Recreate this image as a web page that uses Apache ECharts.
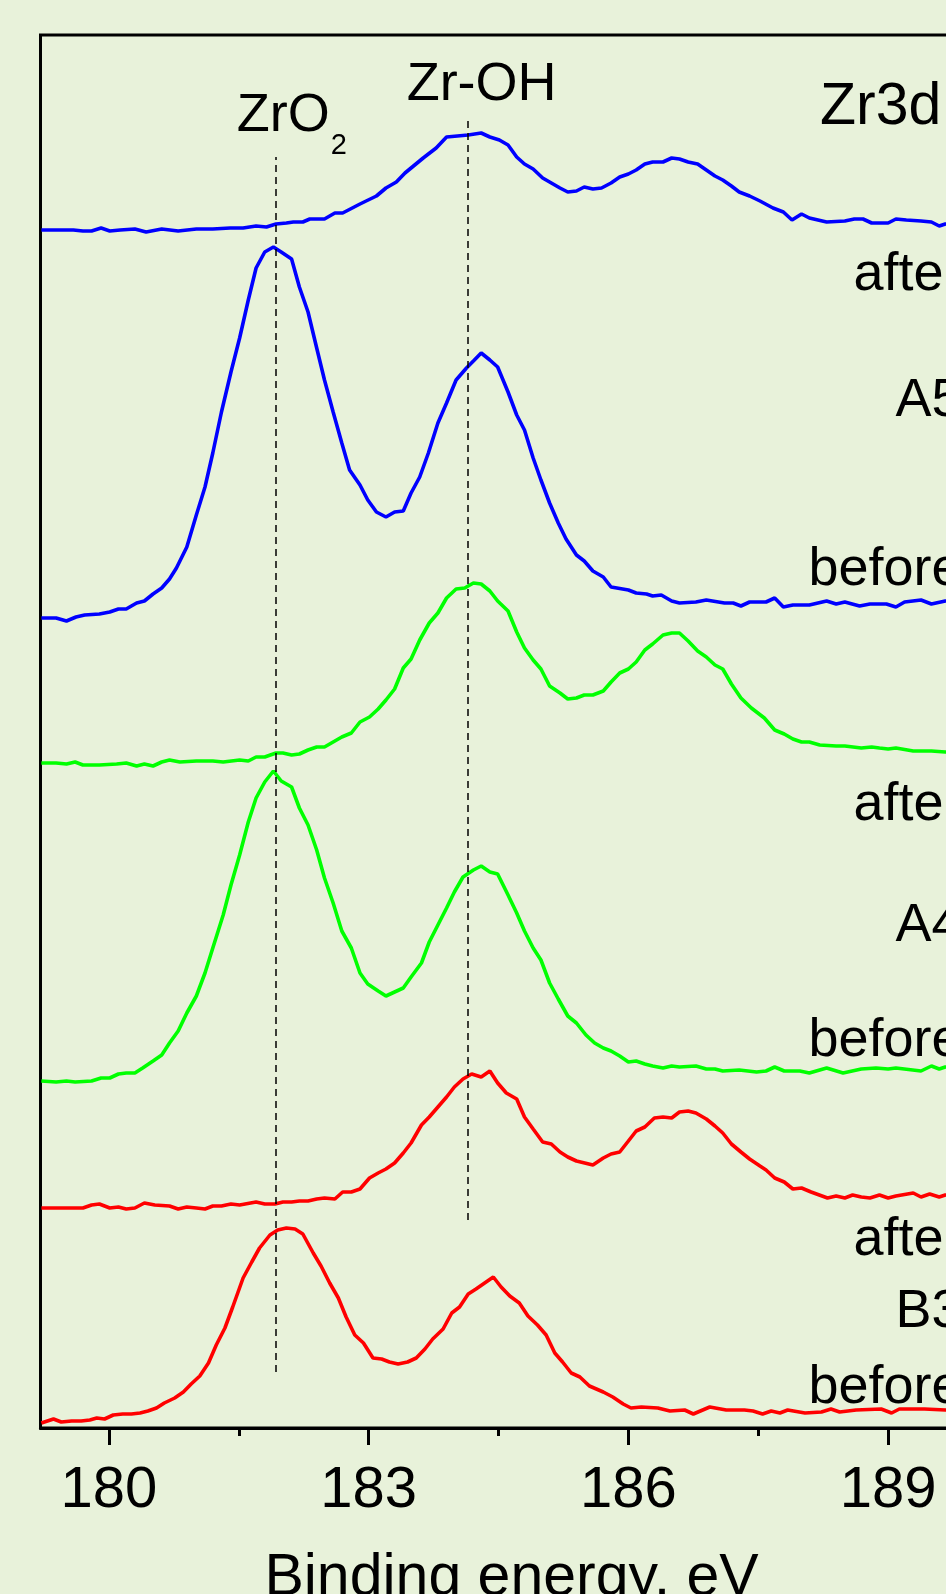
<!DOCTYPE html>
<html>
<head>
<meta charset="utf-8">
<script src="https://cdn.jsdelivr.net/npm/echarts@6.0.0/dist/echarts.min.js"></script>
<style>
  html, body { margin: 0; padding: 0; background: #e8f2da; }
  #chart { width: 946px; height: 1594px; }
</style>
</head>
<body>
<div id="chart"></div>
<script>
// Binding energy (eV) vs. intensity (arbitrary units, curves offset vertically)
const energyMin = 179.21;
const energyMax = 190.09;
const intensityMax = 1393;
const majorTicks = [180, 183, 186, 189];
const minorTicks = [181.5, 184.5, 187.5];
const xTitle = 'Binding energy, eV';

const a5After = [[179.22,1198],[179.39,1198],[179.59,1198],[179.70,1197],[179.80,1197],[179.91,1200],[180.01,1197],[180.13,1198],[180.30,1199],[180.43,1196],[180.61,1199],[180.80,1197],[181.01,1199],[181.20,1199],[181.40,1200],[181.55,1200],[181.70,1202],[181.82,1201],[181.93,1204],[182.05,1205],[182.13,1206],[182.24,1206],[182.32,1209],[182.49,1209],[182.61,1215],[182.70,1215],[182.90,1224],[183.09,1232],[183.20,1240],[183.32,1246],[183.42,1255],[183.63,1270],[183.78,1280],[183.90,1291],[184.15,1293],[184.30,1295],[184.40,1291],[184.51,1288],[184.61,1283],[184.71,1271],[184.80,1264],[184.90,1259],[185.01,1250],[185.11,1245],[185.21,1240],[185.30,1236],[185.40,1237],[185.49,1241],[185.59,1239],[185.69,1240],[185.80,1245],[185.90,1251],[186.00,1254],[186.09,1258],[186.19,1264],[186.28,1266],[186.40,1266],[186.50,1270],[186.59,1269],[186.69,1266],[186.80,1264],[186.90,1258],[187.00,1252],[187.09,1248],[187.19,1242],[187.28,1236],[187.40,1232],[187.52,1227],[187.67,1220],[187.79,1216],[187.89,1208],[188.00,1214],[188.09,1210],[188.29,1206],[188.50,1207],[188.61,1209],[188.71,1209],[188.81,1205],[189.00,1205],[189.09,1209],[189.21,1208],[189.38,1207],[189.50,1206],[189.59,1202],[189.66,1204],[189.80,1205]];

const a5Before = [[179.22,810],[179.39,810],[179.51,807],[179.62,811],[179.72,813],[179.89,814],[180.01,816],[180.11,819],[180.20,819],[180.32,825],[180.41,827],[180.51,834],[180.61,840],[180.70,849],[180.78,860],[180.90,881],[181.01,913],[181.11,941],[181.20,975],[181.30,1016],[181.41,1056],[181.51,1090],[181.61,1128],[181.70,1160],[181.80,1176],[181.90,1181],[181.99,1176],[182.11,1169],[182.20,1141],[182.30,1116],[182.40,1080],[182.49,1048],[182.59,1016],[182.69,985],[182.78,958],[182.90,943],[182.99,928],[183.09,916],[183.20,911],[183.30,916],[183.40,917],[183.49,935],[183.59,951],[183.69,975],[183.80,1005],[183.90,1025],[184.01,1048],[184.13,1060],[184.21,1067],[184.30,1075],[184.40,1068],[184.49,1061],[184.61,1036],[184.71,1013],[184.80,998],[184.90,970],[184.99,948],[185.09,925],[185.19,905],[185.28,889],[185.40,873],[185.49,867],[185.59,857],[185.71,851],[185.80,841],[186.00,838],[186.09,835],[186.21,834],[186.28,832],[186.38,833],[186.50,827],[186.59,825],[186.78,826],[186.90,828],[187.11,825],[187.21,825],[187.30,822],[187.40,826],[187.59,826],[187.69,830],[187.79,821],[187.90,823],[188.09,823],[188.29,827],[188.40,824],[188.50,826],[188.67,822],[188.79,824],[188.98,824],[189.09,821],[189.19,826],[189.38,828],[189.50,824],[189.66,827],[189.80,826]];

const a4After = [[179.22,665],[179.39,665],[179.51,664],[179.61,666],[179.70,663],[179.89,663],[180.09,664],[180.20,665],[180.32,662],[180.41,664],[180.51,662],[180.61,666],[180.70,668],[180.82,666],[181.01,667],[181.20,667],[181.32,666],[181.51,668],[181.61,667],[181.70,671],[181.80,671],[181.93,675],[182.01,675],[182.11,673],[182.20,674],[182.30,678],[182.40,681],[182.49,681],[182.59,686],[182.69,691],[182.80,695],[182.90,706],[183.01,711],[183.11,719],[183.20,728],[183.30,739],[183.40,760],[183.49,769],[183.59,788],[183.70,805],[183.80,815],[183.90,830],[184.01,839],[184.11,840],[184.21,845],[184.30,844],[184.40,837],[184.49,827],[184.61,817],[184.71,796],[184.80,780],[184.90,768],[184.99,759],[185.09,742],[185.21,735],[185.30,729],[185.40,730],[185.49,733],[185.59,733],[185.71,737],[185.80,746],[185.90,755],[186.00,759],[186.09,766],[186.19,778],[186.28,784],[186.40,793],[186.50,795],[186.59,795],[186.69,787],[186.80,777],[186.90,771],[187.00,763],[187.09,759],[187.19,744],[187.30,730],[187.42,720],[187.57,710],[187.69,698],[187.80,694],[187.90,689],[188.00,686],[188.09,686],[188.21,683],[188.40,682],[188.50,682],[188.69,680],[188.81,681],[188.90,680],[189.00,679],[189.09,680],[189.29,677],[189.50,677],[189.66,676],[189.80,676]];

const a4Before = [[179.22,347],[179.39,346],[179.51,347],[179.61,346],[179.80,347],[179.91,350],[180.01,350],[180.11,354],[180.20,355],[180.30,355],[180.39,360],[180.51,367],[180.61,373],[180.70,385],[180.80,397],[180.90,415],[181.01,432],[181.11,455],[181.20,480],[181.32,513],[181.41,543],[181.51,573],[181.61,606],[181.70,630],[181.80,646],[181.90,657],[181.99,647],[182.11,641],[182.20,620],[182.30,603],[182.40,578],[182.49,550],[182.59,525],[182.69,497],[182.80,480],[182.90,455],[182.99,444],[183.11,437],[183.20,432],[183.30,436],[183.40,440],[183.49,451],[183.61,465],[183.70,486],[183.80,503],[183.90,520],[183.99,536],[184.09,551],[184.21,558],[184.30,562],[184.40,556],[184.49,554],[184.61,533],[184.71,515],[184.80,497],[184.90,480],[184.99,468],[185.09,445],[185.19,429],[185.30,412],[185.40,405],[185.51,393],[185.61,385],[185.71,380],[185.80,377],[185.90,372],[186.00,366],[186.09,367],[186.19,364],[186.28,362],[186.40,360],[186.50,362],[186.59,361],[186.78,362],[186.90,359],[187.00,359],[187.09,357],[187.28,358],[187.48,356],[187.59,357],[187.69,361],[187.80,357],[187.98,357],[188.09,355],[188.29,360],[188.48,355],[188.69,359],[188.86,360],[189.00,359],[189.09,360],[189.38,357],[189.50,362],[189.59,359],[189.66,361],[189.80,360]];

const b3After = [[179.22,220],[179.39,220],[179.59,220],[179.70,220],[179.80,223],[179.89,224],[180.01,220],[180.11,221],[180.20,219],[180.30,220],[180.41,225],[180.53,223],[180.70,222],[180.80,219],[180.90,221],[181.01,220],[181.11,219],[181.20,222],[181.30,222],[181.41,224],[181.51,223],[181.70,226],[181.80,224],[181.92,224],[182.01,226],[182.11,226],[182.20,227],[182.30,227],[182.40,229],[182.49,230],[182.61,229],[182.70,236],[182.80,236],[182.90,239],[183.01,250],[183.11,255],[183.20,259],[183.30,265],[183.40,275],[183.49,285],[183.61,303],[183.70,311],[183.80,321],[183.90,331],[183.99,341],[184.09,349],[184.19,354],[184.30,351],[184.40,357],[184.49,345],[184.59,335],[184.71,329],[184.80,311],[184.90,299],[185.01,286],[185.11,284],[185.21,276],[185.30,271],[185.40,267],[185.59,263],[185.71,270],[185.80,274],[185.90,276],[186.00,287],[186.09,297],[186.19,301],[186.30,310],[186.40,311],[186.50,310],[186.59,316],[186.69,317],[186.78,315],[186.90,309],[187.00,302],[187.09,295],[187.19,284],[187.30,276],[187.40,269],[187.52,262],[187.59,258],[187.69,250],[187.80,246],[187.90,239],[188.00,240],[188.11,236],[188.30,230],[188.40,232],[188.50,230],[188.59,233],[188.69,231],[188.79,230],[188.90,233],[189.00,230],[189.09,232],[189.29,235],[189.38,231],[189.48,234],[189.59,231],[189.66,233],[189.80,232]];

const b3Before = [[179.22,5],[179.36,9],[179.45,6],[179.57,7],[179.68,7],[179.78,8],[179.86,10],[179.95,9],[180.05,13],[180.16,14],[180.26,14],[180.36,15],[180.45,17],[180.55,20],[180.64,25],[180.76,30],[180.86,36],[180.95,44],[181.05,52],[181.15,65],[181.24,83],[181.34,100],[181.43,121],[181.55,150],[181.65,166],[181.74,180],[181.86,193],[181.95,198],[182.05,200],[182.15,199],[182.24,194],[182.36,175],[182.45,162],[182.55,145],[182.65,130],[182.74,111],[182.84,93],[182.94,85],[183.05,70],[183.15,69],[183.24,66],[183.34,64],[183.45,66],[183.55,70],[183.65,79],[183.74,89],[183.86,99],[183.96,115],[184.05,121],[184.15,134],[184.24,139],[184.34,145],[184.44,151],[184.53,141],[184.63,132],[184.74,125],[184.84,112],[184.95,103],[185.05,93],[185.15,75],[185.24,66],[185.34,55],[185.44,51],[185.55,42],[185.71,36],[185.82,31],[185.94,24],[186.03,20],[186.15,21],[186.34,20],[186.48,17],[186.65,18],[186.75,14],[186.94,21],[187.13,18],[187.34,18],[187.44,17],[187.55,14],[187.65,17],[187.75,15],[187.84,18],[188.04,15],[188.23,16],[188.34,19],[188.44,16],[188.63,18],[188.92,19],[189.04,15],[189.13,19],[189.42,19],[189.66,18],[189.80,18]];

// Reference (dashed) lines: energy, from intensity, to intensity
const refEnergies = [181.93, 184.15];
const refFrom = [56, 208];
const refTo = [1271, 1308];

// Annotation texts with anchor (energy, baseline intensity)
const labelTexts = ['ZrO', '2', 'Zr-OH', 'Zr3d', 'after', 'A5', 'before', 'after', 'A4', 'before', 'after', 'B3', 'before'];
const labelEnergy = [181.476, 182.561, 183.439, 188.214, 189.848, 189.848, 189.848, 189.848, 189.848, 189.848, 189.848, 189.848, 189.848];
const labelIntensity = [1294.7, 1273, 1326.3, 1302, 1136.3, 1009.7, 841.3, 606.3, 484.7, 369.7, 171, 99.5, 23];
const labelSize = [54, 29, 54, 59, 54, 54, 54, 54, 54, 54, 54, 54, 54];
const labelAlign = ['left', 'left', 'left', 'left', 'right', 'right', 'right', 'right', 'right', 'right', 'right', 'right', 'right'];

const FONT = 'Liberation Sans, Arial, Helvetica, sans-serif';
const BG = '#e8f2da';

const seriesDefs = [
  { name: 'A5 after', data: a5After, color: '#0000ff' },
  { name: 'A5 before', data: a5Before, color: '#0000ff' },
  { name: 'A4 after', data: a4After, color: '#00ff00' },
  { name: 'A4 before', data: a4Before, color: '#00ff00' },
  { name: 'B3 after', data: b3After, color: '#ff0000' },
  { name: 'B3 before', data: b3Before, color: '#ff0000' }
];

const series = seriesDefs.map(s => ({
  type: 'line',
  name: s.name,
  data: s.data,
  showSymbol: false,
  symbol: 'none',
  clip: true,
  lineStyle: { color: s.color, width: 3.6 },
  itemStyle: { color: s.color },
  z: 3
}));

series.push({
  type: 'line',
  name: 'refs',
  data: [],
  showSymbol: false,
  z: 2,
  markLine: {
    silent: true,
    animation: false,
    symbol: ['none', 'none'],
    label: { show: false },
    lineStyle: { type: [7, 5], color: '#000', width: 1.5 },
    emphasis: { disabled: true },
    data: refEnergies.map((e, i) => [{ coord: [e, refFrom[i]] }, { coord: [e, refTo[i]] }])
  }
});

const axisCommon = {
  type: 'value',
  min: energyMin,
  max: energyMax,
  position: 'bottom',
  splitLine: { show: false }
};

const option = {
  backgroundColor: BG,
  animation: false,
  grid: {
    left: 40.5, top: 35, width: 942, height: 1393,
    outerBoundsMode: 'none',
    containLabel: false,
    show: true, borderColor: '#000', borderWidth: 3, backgroundColor: 'transparent'
  },
  xAxis: [
    Object.assign({}, axisCommon, {
      axisLine: { show: true, onZero: false, lineStyle: { color: '#000', width: 3 } },
      axisTick: { show: true, inside: false, length: 17, customValues: majorTicks, lineStyle: { color: '#000', width: 3 } },
      axisLabel: { show: true, customValues: majorTicks, fontSize: 58, color: '#000', fontFamily: FONT, margin: 34 },
      name: xTitle,
      nameLocation: 'middle',
      nameGap: 121,
      nameTextStyle: { fontSize: 59, color: '#000', fontFamily: FONT }
    }),
    Object.assign({}, axisCommon, {
      axisLine: { show: false },
      axisTick: { show: true, inside: false, length: 8, customValues: minorTicks, lineStyle: { color: '#000', width: 3 } },
      axisLabel: { show: false }
    })
  ],
  yAxis: {
    type: 'value', min: 0, max: intensityMax,
    axisLine: { show: false }, axisTick: { show: false }, axisLabel: { show: false }, splitLine: { show: false }
  },
  series: series
};

const chart = echarts.init(document.getElementById('chart'), null, { renderer: 'canvas' });
chart.setOption(option);

const graphics = labelTexts.map((t, i) => {
  const p = chart.convertToPixel({ gridIndex: 0 }, [labelEnergy[i], labelIntensity[i]]);
  const fs = labelSize[i];
  return {
    type: 'text',
    x: p[0],
    y: p[1] - 0.31 * fs,
    silent: true,
    z: 10,
    style: {
      text: t,
      fontSize: fs,
      fontFamily: FONT,
      fill: '#000',
      align: labelAlign[i],
      verticalAlign: 'middle'
    }
  };
});
chart.setOption({ graphic: graphics });
</script>
</body>
</html>
